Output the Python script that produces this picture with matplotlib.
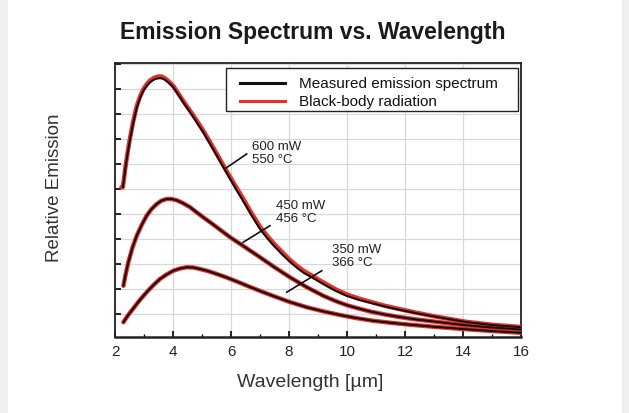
import matplotlib
matplotlib.use("Agg")
import matplotlib.pyplot as plt
from matplotlib.patches import Rectangle
from matplotlib.ticker import MultipleLocator

plt.rcParams['font.family'] = ['Liberation Sans', 'DejaVu Sans']

# measured emission spectra (black)
wl_600 = [2.27, 2.31, 2.36, 2.44, 2.52, 2.62, 2.75, 2.87, 2.98, 3.1, 3.21, 3.35, 3.49, 3.6,
          3.72, 3.85, 4.01, 4.12, 4.24, 4.4, 4.59, 4.8, 5.04, 5.28, 5.51, 5.74, 5.97, 6.18,
          6.38, 6.68, 7.0, 7.25, 7.5, 7.75, 8.0, 8.25, 8.5, 8.78, 9.0, 9.25, 9.6, 10.0,
          10.4, 10.8, 11.3, 11.8, 12.4, 13.0, 13.5, 14.1, 15.0, 16.0]
em_600 = [6.07, 6.4, 6.85, 7.45, 8.0, 8.6, 9.25, 9.65, 9.93, 10.13, 10.27, 10.38, 10.43, 10.43,
          10.37, 10.25, 10.07, 9.88, 9.67, 9.38, 9.07, 8.7, 8.27, 7.8, 7.33, 6.86, 6.40, 5.98,
          5.6, 5.0, 4.4, 4.03, 3.7, 3.4, 3.12, 2.87, 2.65, 2.47, 2.32, 2.15, 1.93, 1.72,
          1.57, 1.45, 1.3, 1.17, 1.03, 0.9, 0.8, 0.68, 0.56, 0.47]

wl_450 = [2.29, 2.36, 2.46, 2.6, 2.75, 2.92, 3.09, 3.26, 3.44, 3.6, 3.78, 3.95, 4.13, 4.35,
          4.59, 4.8, 5.04, 5.28, 5.51, 5.75, 5.97, 6.15, 6.35, 6.68, 7.0, 7.5, 8.03, 8.6,
          9.18, 9.6, 10.0, 10.4, 10.8, 11.3, 11.8, 12.4, 13.0, 13.5, 14.1, 15.0, 16.0]
em_450 = [2.13, 2.55, 3.07, 3.65, 4.13, 4.56, 4.93, 5.2, 5.4, 5.53, 5.6, 5.6, 5.55, 5.43,
          5.27, 5.08, 4.87, 4.67, 4.47, 4.26, 4.07, 3.93, 3.78, 3.52, 3.27, 2.87, 2.47, 2.08,
          1.73, 1.52, 1.35, 1.22, 1.1, 0.98, 0.88, 0.78, 0.7, 0.63, 0.55, 0.46, 0.38]

wl_350 = [2.29, 2.45, 2.63, 2.85, 3.09, 3.32, 3.55, 3.78, 4.01, 4.24, 4.47, 4.7, 4.93, 5.2,
          5.51, 5.85, 6.2, 6.66, 7.05, 7.46, 8.0, 8.61, 9.2, 9.76, 10.3, 10.9, 11.5, 12.0,
          13.0, 14.0, 15.0, 16.0]
em_350 = [0.67, 0.95, 1.22, 1.55, 1.87, 2.15, 2.4, 2.58, 2.73, 2.82, 2.87, 2.86, 2.8, 2.72,
          2.6, 2.46, 2.3, 2.08, 1.9, 1.72, 1.49, 1.27, 1.1, 0.96, 0.84, 0.73, 0.65, 0.59,
          0.49, 0.4, 0.32, 0.25]

# black-body fits (red); the 600 mW fit sits a little above the measurement
bb_wl_600 = [2.22] + wl_600
bb_600 = [6.07, 6.07, 6.42, 6.88, 7.5, 8.05, 8.66, 9.32, 9.72, 10.0, 10.2, 10.34, 10.45, 10.5,
          10.5, 10.43, 10.31, 10.12, 9.93, 9.72, 9.44, 9.13, 8.77, 8.34, 7.87, 7.41, 6.94,
          6.48, 6.07, 5.69, 5.09, 4.49, 4.12, 3.79, 3.49, 3.2, 2.95, 2.73, 2.54, 2.39, 2.22,
          1.99, 1.78, 1.62, 1.49, 1.33, 1.2, 1.05, 0.91, 0.81, 0.69, 0.57, 0.48]
bb_wl_450 = wl_450
bb_450 = em_450
bb_wl_350 = wl_350
bb_350 = em_350

labels = ["600 mW\n550 °C", "450 mW\n456 °C", "350 mW\n366 °C"]
label_xy = [(6.72, 7.47), (7.54, 5.09), (9.49, 3.34)]
leader_x = [(5.83, 6.54), (6.42, 7.34), (7.92, 9.13)]
leader_y = [(6.84, 7.4), (3.87, 4.53), (1.87, 2.73)]
legend_labels = ['Measured emission spectrum', 'Black-body radiation']
legend_colors = ['#111111', '#e8302a']

fig = plt.figure(figsize=(6.29, 4.14), dpi=100)
fig.patch.set_facecolor('#efefef')
fig.patches.append(Rectangle((8 / 629, 0), 614 / 629, 1, transform=fig.transFigure,
                             facecolor='white', edgecolor='none', zorder=-1))

ax = fig.add_axes([115 / 629, 76 / 414, 406 / 629, 274 / 414])
ax.set_facecolor('white')

for wl, em in [(bb_wl_600, bb_600), (bb_wl_450, bb_450), (bb_wl_350, bb_350)]:
    ax.plot(wl, em, color='#e8302a', lw=3.2, solid_capstyle='round',
            solid_joinstyle='round', zorder=3)
for wl, em in [(wl_600, em_600), (wl_450, em_450), (wl_350, em_350)]:
    ax.plot(wl, em, color='#111111', lw=1.5, solid_joinstyle='round', zorder=4)

for txt, (tx, ty), lx, ly in zip(labels, label_xy, leader_x, leader_y):
    ax.plot(lx, ly, color='#111111', lw=1.2, zorder=5)
    ax.text(tx, ty, txt, fontsize=9.5, color='#222222', va='center', ha='left',
            linespacing=1.15, zorder=6)

# legend box drawn by hand to get the wide padding of the original
ax.add_patch(Rectangle((0.273, 0.824), 0.719, 0.157, transform=ax.transAxes,
                       facecolor='white', edgecolor='#222222', lw=1.0, zorder=10))
for i, (lab, col) in enumerate(zip(legend_labels, legend_colors)):
    yy = 0.927 - i * 0.065
    ax.plot([0.308, 0.419], [yy, yy], color=col, lw=2.2, transform=ax.transAxes,
            clip_on=False, zorder=11)
    ax.text(0.453, yy, lab, fontsize=11, color='#111111', va='center', ha='left',
            transform=ax.transAxes, zorder=11)

ax.set_xlim(2, 16)
ax.set_ylim(0.08, 11.04)
ax.xaxis.set_major_locator(MultipleLocator(2))
ax.xaxis.set_minor_locator(MultipleLocator(1))
ax.yaxis.set_major_locator(MultipleLocator(1))
ax.set_yticklabels([])
ax.tick_params(axis='both', which='major', direction='in', length=4, width=1.2,
               labelsize=11, labelcolor='#222222', pad=5)
ax.tick_params(axis='x', which='minor', direction='in', length=2, width=1.0)
ax.tick_params(axis='y', which='both', left=True, right=False)
ax.grid(True, which='major', color='#d8d8d8', lw=0.9)
ax.set_axisbelow(True)
for s in ax.spines.values():
    s.set_color('#222222')
    s.set_linewidth(1.3)
ax.spines['bottom'].set_linewidth(1.8)

fig.text(313 / 629, 1 - 33 / 414, 'Emission Spectrum vs. Wavelength', ha='center',
         va='center', fontsize=16.5, fontweight='bold', color='#1a1a1a')
fig.text(310 / 629, 1 - 383 / 414, 'Wavelength [µm]', ha='center', va='center',
         fontsize=14, color='#333333')
fig.text(55 / 629, 1 - 188 / 414, 'Relative Emission', ha='center', va='center',
         rotation=90, fontsize=13.5, color='#333333')

fig.savefig('out.png', dpi=100, facecolor=fig.get_facecolor())
